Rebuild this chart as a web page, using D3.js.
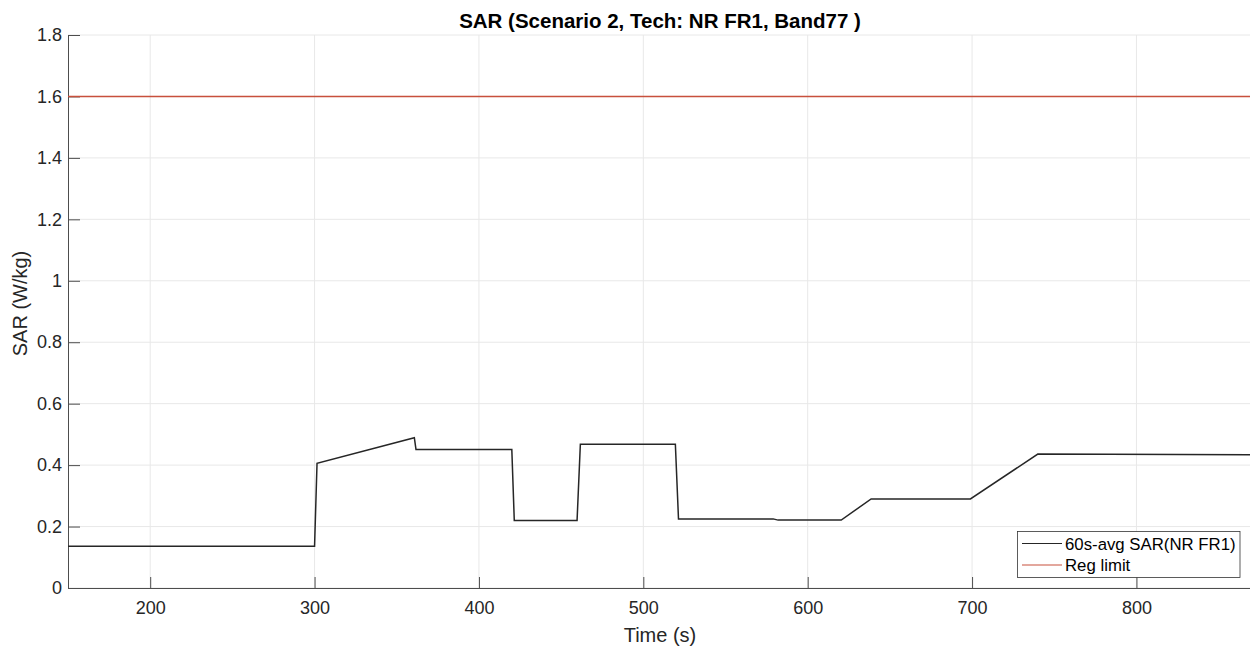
<!DOCTYPE html>
<html><head><meta charset="utf-8">
<script src="https://cdn.jsdelivr.net/npm/d3@7"></script>
<style>body{margin:0;background:#fff;} svg{display:block;font-family:"Liberation Sans",Arial,sans-serif;}</style>
</head><body><svg id="c" width="1250" height="648"></svg>
<script>
const timeVals = [150, 300, 301.5, 360.7, 361.7, 420, 421.5, 459.7, 461.7, 519.5, 521.4, 579, 582, 620.4, 638.6, 699, 740, 870];
const sarVals  = [0.136, 0.136, 0.406, 0.489, 0.451, 0.451, 0.220, 0.220, 0.468, 0.468, 0.225, 0.225, 0.221, 0.221, 0.290, 0.290, 0.436, 0.434];
const regLimit = 1.6;
const xTicks = [200, 300, 400, 500, 600, 700, 800];
const yTicks = [0, 0.2, 0.4, 0.6, 0.8, 1, 1.2, 1.4, 1.6, 1.8];
const seriesNames = ["60s-avg SAR(NR FR1)", "Reg limit"];
const titleText = "SAR (Scenario 2, Tech: NR FR1, Band77 )";

const svg = d3.select("#c");
const L = 68, R = 1251.5, T = 35, B = 588;
const x = d3.scaleLinear().domain([150, 870]).range([L, R]);
const y = d3.scaleLinear().domain([0, 1.8]).range([B, T]);
const axisCol = "#4d4d4d", textCol = "#262626", gridCol = "#e8e8e8";

// grid
svg.append("g").selectAll("line").data(xTicks).join("line")
  .attr("x1", d => x(d)).attr("x2", d => x(d)).attr("y1", T).attr("y2", B)
  .attr("stroke", gridCol).attr("stroke-width", 1);
svg.append("g").selectAll("line").data(yTicks).join("line")
  .attr("x1", L).attr("x2", R).attr("y1", d => y(d)).attr("y2", d => y(d))
  .attr("stroke", gridCol).attr("stroke-width", 1);

// axes
const xAxis = d3.axisBottom(x).tickValues(xTicks).tickSizeInner(-11).tickSizeOuter(0).tickPadding(13);
const gx = svg.append("g").attr("transform", `translate(0,${B})`).call(xAxis);
const yAxis = d3.axisLeft(y).tickValues(yTicks).tickSizeInner(-12).tickSizeOuter(0).tickPadding(6).tickFormat(d3.format("~g"));
const gy = svg.append("g").attr("transform", `translate(${L},0)`).call(yAxis);
[gx, gy].forEach(g => {
  g.select(".domain").attr("stroke", axisCol).attr("stroke-width", 1);
  g.selectAll(".tick line").attr("stroke", axisCol);
  g.selectAll(".tick text").attr("fill", textCol).style("font-size", "18px")
   .style("font-family", "'Liberation Sans',Arial,sans-serif");
});

// lines
svg.append("line").attr("x1", L).attr("x2", R).attr("y1", y(regLimit)).attr("y2", y(regLimit))
  .attr("stroke", "#c8503c").attr("stroke-width", 1.6);
const pts = timeVals.map((t, i) => [t, sarVals[i]]);
svg.append("path").datum(pts)
  .attr("d", d3.line().x(d => x(d[0])).y(d => y(d[1])))
  .attr("fill", "none").attr("stroke", "#262626").attr("stroke-width", 1.5);

// labels
svg.append("text").attr("x", 660).attr("y", 28).attr("text-anchor", "middle")
  .attr("fill", "#000").style("font-size", "20.5px").style("font-weight", "bold").text(titleText);
svg.append("text").attr("x", 660).attr("y", 642).attr("text-anchor", "middle")
  .attr("fill", textCol).style("font-size", "20px").text("Time (s)");
svg.append("text").attr("transform", `translate(27,${(T + B) / 2 - 8}) rotate(-90)`).attr("text-anchor", "middle")
  .attr("fill", textCol).style("font-size", "20px").text("SAR (W/kg)");

// legend
const lg = svg.append("g");
lg.append("rect").attr("x", 1017.5).attr("y", 531.5).attr("width", 222.5).attr("height", 46)
  .attr("fill", "#fff").attr("stroke", "#333").attr("stroke-width", 0.8);
const legCols = ["#262626", "#c8503c"];
seriesNames.forEach((n, i) => {
  const yy = 543.5 + i * 21.5;
  lg.append("line").attr("x1", 1022).attr("x2", 1062).attr("y1", yy).attr("y2", yy)
    .attr("stroke", legCols[i]).attr("stroke-width", 1.2);
  lg.append("text").attr("x", 1065).attr("y", yy + 6).attr("fill", "#000")
    .style("font-size", "16.8px").text(n);
});
</script></body></html>
